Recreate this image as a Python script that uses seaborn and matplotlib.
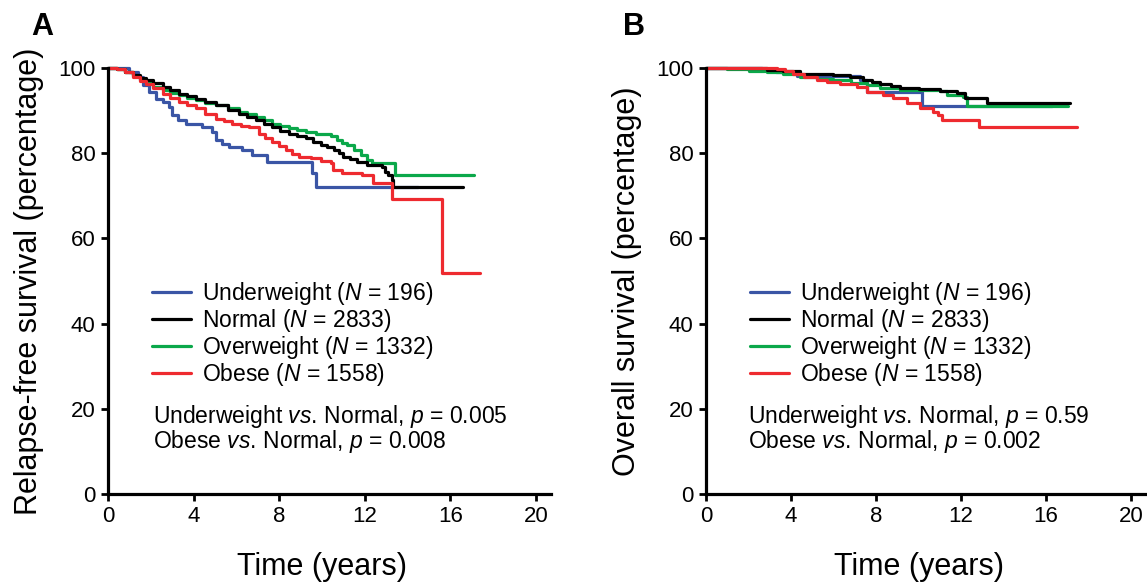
import matplotlib
matplotlib.use("Agg")
import matplotlib.pyplot as plt
import pandas as pd
import seaborn as sns

# ---- panel A: relapse-free survival (step points) ----
rfs_under_t = [0, 1.0, 1.38, 1.62, 1.93, 2.24, 2.55, 2.86, 3.01, 3.25, 3.64, 4.41, 4.88, 5.03, 5.35,
               5.66, 6.28, 6.74, 7.44, 9.54, 9.74, 14.5]
rfs_under_s = [100, 99.0, 97.9, 95.9, 94.4, 92.8, 92.0, 90.8, 88.9, 87.7, 86.9, 86.1, 84.9, 83.0, 82.2,
               81.4, 80.7, 79.5, 77.9, 75.3, 72.1, 72.1]
rfs_normal_t = [0, 0.4, 0.8, 1.15, 1.5, 1.77, 2.1, 2.55, 2.9, 3.32, 3.7, 4.1, 4.55, 5.03, 5.6, 6.12, 6.5,
                6.9, 7.3, 7.68, 8.05, 8.45, 8.85, 9.23, 9.6, 9.93, 10.25, 10.55, 10.8, 11.0, 11.3, 11.64,
                12.1, 12.8, 12.95, 13.1, 13.26, 13.34, 16.6]
rfs_normal_s = [100, 99.8, 99.1, 98.3, 97.6, 97.1, 96.4, 95.5, 94.8, 94.0, 93.4, 92.8, 92.0, 91.2, 90.2,
                89.3, 88.5, 87.7, 86.9, 86.1, 85.3, 84.6, 84.1, 83.6, 82.7, 81.9, 81.4, 80.8, 80.0, 79.2,
                78.6, 78.0, 77.2, 76.8, 75.6, 74.9, 73.7, 72.1, 72.1]
rfs_over_t = [0, 0.4, 0.8, 1.15, 1.5, 1.77, 2.1, 2.55, 2.9, 3.32, 3.7, 4.1, 4.55, 5.03, 5.6, 6.12, 6.5,
              6.9, 7.3, 7.68, 8.05, 8.45, 8.85, 9.23, 9.7, 10.4, 10.71, 10.95, 11.18, 11.49, 11.8, 12.1,
              12.34, 13.43, 17.1]
rfs_over_s = [100, 99.7, 99.0, 98.1, 97.2, 96.5, 95.6, 94.8, 94.2, 93.6, 93.0, 92.4, 91.9, 91.4, 90.5,
              89.7, 89.1, 88.5, 87.7, 86.9, 86.3, 85.8, 85.4, 85.0, 84.6, 84.0, 83.1, 82.5, 81.9, 80.8,
              79.6, 78.4, 77.6, 75.0, 75.0]
rfs_obese_t = [0, 0.4, 0.8, 1.15, 1.5, 1.77, 2.1, 2.55, 2.9, 3.32, 3.7, 4.1, 4.55, 5.03, 5.4, 5.8, 6.2,
               6.59, 7.05, 7.35, 7.68, 8.0, 8.3, 8.6, 8.92, 9.5, 9.93, 10.4, 10.5, 10.95, 11.88, 12.4,
               13.26, 15.6, 17.4]
rfs_obese_s = [100, 99.7, 99.0, 98.0, 97.0, 96.3, 95.2, 94.0, 93.0, 92.0, 91.2, 90.5, 89.3, 88.1, 87.5,
               86.9, 86.5, 86.1, 84.6, 83.6, 82.6, 81.6, 80.7, 79.9, 79.1, 78.8, 78.2, 77.6, 76.1, 75.4,
               74.9, 73.1, 69.2, 51.8, 51.8]

# ---- panel B: overall survival ----
os_under_t = [0, 2.62, 3.3, 4.27, 7.25, 7.56, 10.15, 16.3]
os_under_s = [100, 99.7, 99.0, 98.1, 97.1, 94.4, 91.1, 91.1]
os_normal_t = [0, 1.5, 2.85, 3.6, 4.42, 5.2, 5.99, 6.77, 7.4, 7.8, 8.19, 8.7, 9.13, 10.0, 11.01, 11.8,
               12.2, 13.2, 17.13]
os_normal_s = [100, 99.9, 99.6, 99.2, 98.7, 98.5, 98.3, 97.9, 97.1, 96.7, 96.2, 95.8, 95.3, 95.0, 94.7,
               94.1, 92.9, 91.9, 91.9]
os_over_t = [0, 1.0, 2.0, 2.85, 3.6, 4.42, 5.2, 5.99, 6.8, 7.56, 8.19, 9.13, 11.0, 11.33, 12.1, 12.27, 17.05]
os_over_s = [100, 99.8, 99.4, 99.1, 98.5, 97.9, 97.5, 97.1, 96.5, 96.0, 95.4, 94.9, 94.7, 93.7, 93.3,
             91.1, 91.1]
os_obese_t = [0, 2.0, 3.33, 3.7, 4.1, 4.6, 5.2, 5.7, 6.3, 7.09, 7.56, 8.34, 8.82, 9.44, 10.07, 10.7,
              10.93, 11.09, 12.82, 17.44]
os_obese_s = [100, 99.9, 99.8, 99.2, 98.7, 97.9, 97.1, 96.7, 96.3, 95.5, 94.4, 93.6, 92.9, 91.7, 90.5,
              89.7, 88.9, 87.8, 86.2, 86.2]

groups = ["Underweight", "Normal", "Overweight", "Obese"]
group_n = [196, 2833, 1332, 1558]
colors = ["#3a55a5", "#000000", "#0ba84a", "#ee2a2f"]
draw_order = ["Underweight", "Overweight", "Normal", "Obese"]

p_text_a = ["Underweight $\\mathit{vs.}\\,$Normal, $\\mathit{p}$ = 0.005",
            "Obese $\\mathit{vs.}\\,$Normal, $\\mathit{p}$ = 0.008"]
p_text_b = ["Underweight $\\mathit{vs.}\\,$Normal, $\\mathit{p}$ = 0.59",
            "Obese $\\mathit{vs.}\\,$Normal, $\\mathit{p}$ = 0.002"]

sns.set_theme(style="ticks")
plt.rcParams["font.family"] = ["Liberation Sans", "DejaVu Sans"]
plt.rcParams["mathtext.fontset"] = "custom"
plt.rcParams["mathtext.rm"] = "Liberation Sans"
plt.rcParams["mathtext.it"] = "Liberation Sans:italic"
plt.rcParams["text.color"] = "black"
plt.rcParams["axes.labelcolor"] = "black"


def make_frame(curves):
    rows = []
    for name, (t, s) in zip(groups, curves):
        rows.append(pd.DataFrame({"time": t, "surv": s, "group": name}))
    return pd.concat(rows, ignore_index=True)


def draw_panel(ax, df, ylabel, p_lines, p_x, letter, letter_x):
    handles = {}
    for name in draw_order:
        sub = df[df["group"] == name]
        sns.lineplot(data=sub, x="time", y="surv", ax=ax, color=colors[groups.index(name)],
                     drawstyle="steps-post", estimator=None, sort=False, linewidth=2.3,
                     clip_on=False, legend=False)
        handles[name] = ax.lines[-1]
    ax.set_xlim(0, 20.7)
    ax.set_ylim(0, 100)
    ax.set_xticks(range(0, 21, 4))
    ax.set_yticks(range(0, 101, 20))
    ax.tick_params(labelsize=16, width=2.0, length=5, pad=4, color="black", labelcolor="black")
    for side in ["left", "bottom"]:
        ax.spines[side].set_linewidth(2.3)
        ax.spines[side].set_color("black")
    sns.despine(ax=ax)
    ax.set_xlabel("Time (years)", fontsize=22, color="black")
    ax.xaxis.set_label_coords(10 / 20.7, -0.135)
    ax.set_ylabel(ylabel, fontsize=22, labelpad=10, color="black")

    labels = [f"{g} ($\\mathit{{N}}$ = {n})" for g, n in zip(groups, group_n)]
    ax.legend([handles[g] for g in groups], labels, loc="upper left", bbox_to_anchor=(0.099, 0.503),
              frameon=False, fontsize=16.5, borderpad=0, borderaxespad=0, handlelength=1.7,
              handletextpad=0.5, labelspacing=0.0, labelcolor="black")
    ax.text(p_x, 16.7, p_lines[0], fontsize=16.5, va="baseline", ha="left", color="black")
    ax.text(p_x, 10.8, p_lines[1], fontsize=16.5, va="baseline", ha="left", color="black")
    fig.text(letter_x, 1 - 27 / 584, letter, fontsize=22, fontweight="bold", ha="center",
             va="center", color="black")


fig = plt.figure(figsize=(11.47, 5.84), dpi=100)
ax_a = fig.add_axes([108 / 1147, 90 / 584, 443 / 1147, 426 / 584])
ax_b = fig.add_axes([706 / 1147, 90 / 584, 440 / 1147, 426 / 584])

rfs = make_frame([(rfs_under_t, rfs_under_s), (rfs_normal_t, rfs_normal_s),
                  (rfs_over_t, rfs_over_s), (rfs_obese_t, rfs_obese_s)])
ovs = make_frame([(os_under_t, os_under_s), (os_normal_t, os_normal_s),
                  (os_over_t, os_over_s), (os_obese_t, os_obese_s)])

draw_panel(ax_a, rfs, "Relapse-free survival (percentage)", p_text_a, 2.1, "A", 42 / 1147)
draw_panel(ax_b, ovs, "Overall survival (percentage)", p_text_b, 1.98, "B", 634 / 1147)

fig.savefig("out.png", dpi=100)
